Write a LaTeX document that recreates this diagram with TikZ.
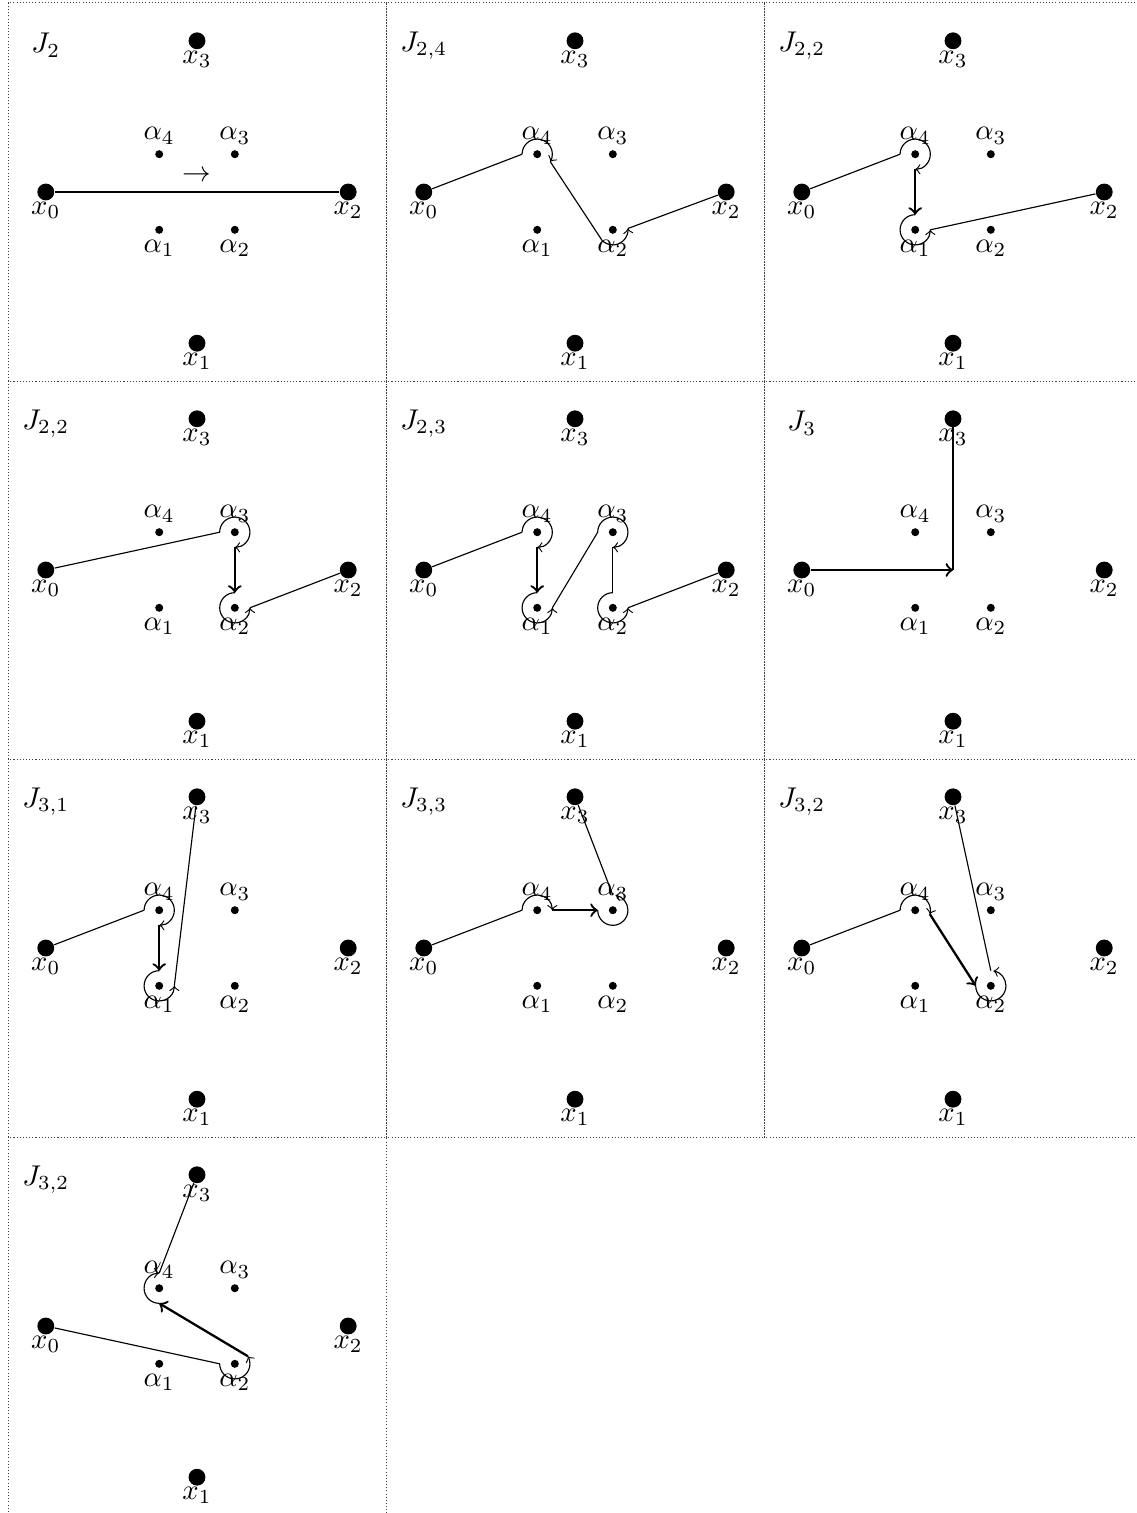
\documentclass[tikz,border=0pt]{standalone}
\usetikzlibrary{calc}
\tikzset{
  big/.style={circle,fill=black,inner sep=0pt,minimum size=5.9pt},
  small/.style={circle,fill=black,inner sep=0pt,minimum size=2.8pt},
  frame/.style={line width=0.35pt,dash pattern=on 0.35pt off 0.75pt,black!75},
  thinline/.style={line width=0.4pt},
  boldarrow/.style={thick,->},
}
\def\rr{0.4}
\newcommand\arcaround[4][->]{\draw[#1] ($(#2)+(#3:\rr)$) arc[start angle=#3,end angle=#4,radius=\rr];}
\newcommand\basepanel[4]{%
  \begin{scope}[shift={(#2,#3)}]
    \draw[frame] (-5,-5) rectangle (5,5);
    \node[big] (#1x0) at (-4,0) {};
    \node[big] (#1x1) at (0,-4) {};
    \node[big] (#1x2) at (4,0) {};
    \node[big] (#1x3) at (0,4) {};
    \node[small] (#1a1) at (-1,-1) {};
    \node[small] (#1a2) at (1,-1) {};
    \node[small] (#1a3) at (1,1) {};
    \node[small] (#1a4) at (-1,1) {};
    \node[below] (#1lx0) at (#1x0.center) {$x_0$};
    \node[below] (#1lx1) at (#1x1.center) {$x_1$};
    \node[below] (#1lx2) at (#1x2.center) {$x_2$};
    \node[below] (#1lx3) at (#1x3.center) {$x_3$};
    \node[below] (#1la1) at (#1a1.center) {$\alpha_1$};
    \node[below] (#1la2) at (#1a2.center) {$\alpha_2$};
    \node[above] (#1la3) at (#1a3.center) {$\alpha_3$};
    \node[above] (#1la4) at (#1a4.center) {$\alpha_4$};
    \node (#1title) at (-4,3.88) {$#4$};
  \end{scope}}
\begin{document}
\begin{tikzpicture}[x=13.23pt,y=13.23pt,thinline]
\useasboundingbox (-5.212,-34.947) rectangle (24.841,5.079);

% ---- Panel 1: J_2
\basepanel{p1}{0}{0}{J_2}
\draw (p1x0) -- node[above] (p1arr) {$\rightarrow$} (p1x2);

% ---- Panel 2: J_{2,4}
\basepanel{p2}{10}{0}{J_{2,4}}
\draw (p2x0) -- ($(p2a4)+(180:\rr)$);
\arcaround{p2a4}{180}{-30}
\draw ($(p2a4)+(-30:\rr)$) -- ($(p2a2)+(225:\rr)$);
\arcaround{p2a2}{225}{365}
\draw ($(p2a2)+(5:\rr)$) -- (p2x2);

% ---- Panel 3: J_{2,2}
\basepanel{p3}{20}{0}{J_{2,2}}
\draw (p3x0) -- ($(p3a4)+(180:\rr)$);
\arcaround{p3a4}{180}{-90}
\draw[boldarrow] ($(p3a4)+(270:\rr)$) -- ($(p3a1)+(90:\rr)$);
\arcaround{p3a1}{90}{360}
\draw ($(p3a1)+(0:\rr)$) -- (p3x2);

% ---- Panel 4: J_{2,2}
\basepanel{p4}{0}{-10}{J_{2,2}}
\draw (p4x0) -- ($(p4a3)+(180:\rr)$);
\arcaround{p4a3}{180}{-90}
\draw[boldarrow] ($(p4a3)+(270:\rr)$) -- ($(p4a2)+(90:\rr)$);
\arcaround{p4a2}{90}{360}
\draw ($(p4a2)+(0:\rr)$) -- (p4x2);

% ---- Panel 5: J_{2,3}
\basepanel{p5}{10}{-10}{J_{2,3}}
\draw (p5x0) -- ($(p5a4)+(180:\rr)$);
\arcaround{p5a4}{180}{-90}
\draw[boldarrow] ($(p5a4)+(270:\rr)$) -- ($(p5a1)+(90:\rr)$);
\arcaround{p5a1}{90}{360}
\draw ($(p5a1)+(0:\rr)$) -- ($(p5a3)+(180:\rr)$);
\arcaround{p5a3}{180}{-90}
\draw ($(p5a3)+(270:\rr)$) -- ($(p5a2)+(90:\rr)$);
\arcaround{p5a2}{90}{360}
\draw ($(p5a2)+(0:\rr)$) -- (p5x2);

% ---- Panel 6: J_3
\basepanel{p6}{20}{-10}{J_3}
\coordinate (p6c) at (20,-10);
\draw[boldarrow] (p6x0) -- (p6c);
\draw[thick] (p6c) -- (p6x3.center);

% ---- Panel 7: J_{3,1}
\basepanel{p7}{0}{-20}{J_{3,1}}
\draw (p7x0) -- ($(p7a4)+(180:\rr)$);
\arcaround{p7a4}{180}{-90}
\draw[boldarrow] ($(p7a4)+(270:\rr)$) -- ($(p7a1)+(90:\rr)$);
\arcaround{p7a1}{90}{360}
\draw ($(p7a1)+(0:\rr)$) -- (p7x3);

% ---- Panel 8: J_{3,3}
\basepanel{p8}{10}{-20}{J_{3,3}}
\draw (p8x0) -- ($(p8a4)+(180:\rr)$);
\arcaround{p8a4}{180}{0}
\draw[boldarrow] ($(p8a4)+(0:\rr)$) -- ($(p8a3)+(180:\rr)$);
\arcaround{p8a3}{180}{440}
\draw ($(p8a3)+(90:\rr)$) -- (p8x3);

% ---- Panel 9: J_{3,2}
\basepanel{p9}{20}{-20}{J_{3,2}}
\draw (p9x0) -- ($(p9a4)+(180:\rr)$);
\arcaround{p9a4}{180}{-15}
\draw[boldarrow] ($(p9a4)+(-15:\rr)$) -- ($(p9a2)+(180:\rr)$);
\arcaround{p9a2}{180}{440}
\draw ($(p9a2)+(90:\rr)$) -- (p9x3);

% ---- Panel 10: J_{3,2}
\basepanel{p10}{0}{-30}{J_{3,2}}
\draw (p10x0) -- ($(p10a2)+(180:\rr)$);
\arcaround{p10a2}{180}{390}
\draw[boldarrow] ($(p10a2)+(30:\rr)$) -- ($(p10a4)+(270:\rr)$);
\arcaround{p10a4}{270}{90}
\draw ($(p10a4)+(90:\rr)$) -- (p10x3);
\end{tikzpicture}
\end{document}
